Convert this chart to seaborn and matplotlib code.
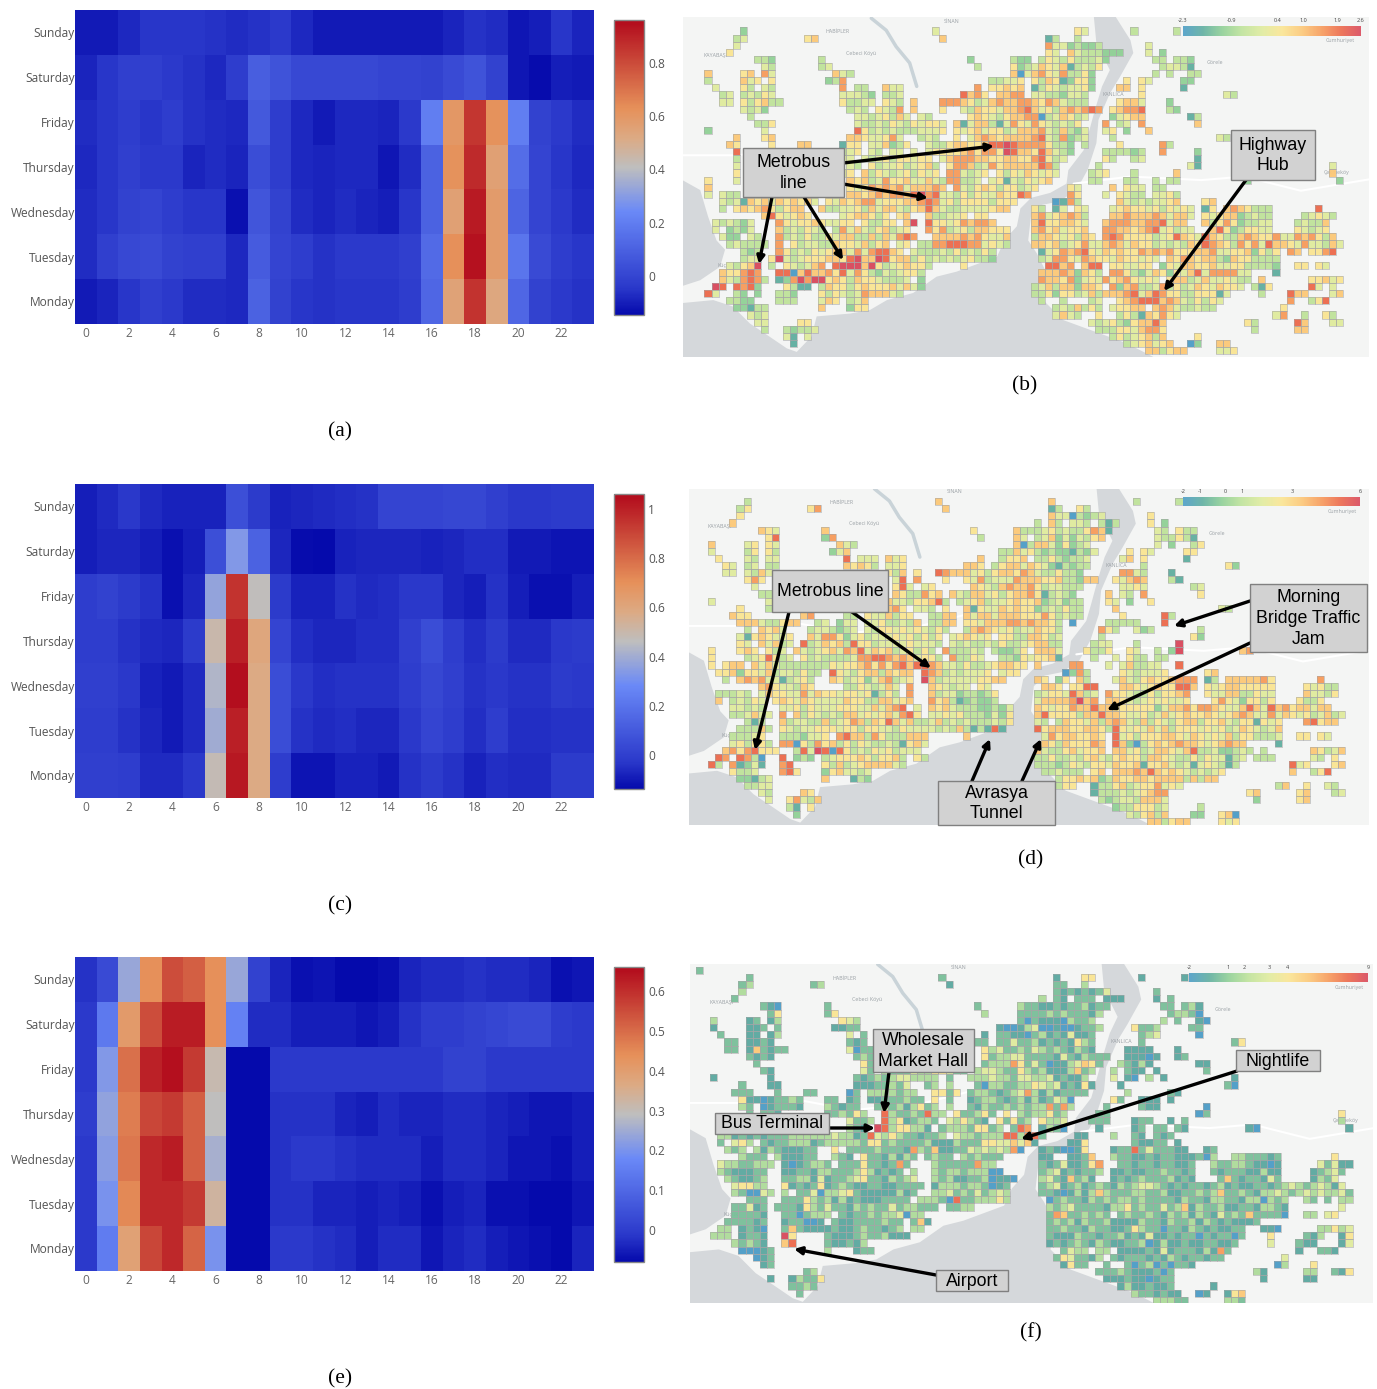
import numpy as np
import pandas as pd
import seaborn as sns
import matplotlib
matplotlib.use("Agg")
import matplotlib.pyplot as plt
from matplotlib.colors import LinearSegmentedColormap, ListedColormap
from matplotlib.patches import Polygon, Rectangle
from matplotlib.collections import PatchCollection
from matplotlib.transforms import ScaledTranslation

W, H = 1377, 1389
days = ["Sunday", "Saturday", "Friday", "Thursday", "Wednesday", "Tuesday", "Monday"]
hours = list(range(24))

week_a = [
 [-.11,-.11,-.08,-.05,-.05,-.05,-.06,-.07,-.06,-.04,-.08,-.11,-.11,-.11,-.11,-.11,-.11,-.09,-.06,-.07,-.12,-.10,-.05,-.09],
 [-.09,-.05,-.02,-.02,-.04,-.06,-.08,-.03,.09,.05,.01,.01,.01,.01,0,0,-.01,.02,.05,-.01,-.12,-.14,-.10,-.11],
 [-.07,-.05,-.03,-.05,-.03,-.06,-.07,-.08,.07,-.03,-.08,-.11,-.08,-.08,-.09,-.04,.2,.6,.85,.62,.2,-.01,-.04,-.07],
 [-.08,-.05,-.02,-.04,-.04,-.09,-.07,-.09,.03,-.03,-.08,-.09,-.08,-.08,-.12,-.07,.1,.62,.88,.56,.14,.0,-.05,-.08],
 [-.07,-.05,-.01,0,-.03,-.05,-.05,-.13,.06,-.01,-.07,-.09,-.07,-.09,-.1,-.05,.1,.56,.92,.58,.11,.0,-.04,-.07],
 [-.07,-.02,.01,.02,-.01,-.02,-.02,-.08,.08,0,-.03,-.06,-.04,-.04,-.04,-.02,.13,.63,.94,.58,.17,.02,-.03,-.05],
 [-.11,-.09,-.05,-.02,-.04,-.07,-.07,-.08,.10,-.01,-.05,-.06,-.05,-.05,-.05,-.03,.12,.55,.86,.53,.12,-.01,-.04,-.06],
]
week_c = [
 [-.09,-.06,-.03,-.06,-.08,-.08,-.08,.06,-.02,-.08,-.07,-.06,-.05,-.04,.02,.02,.02,.03,.03,.0,-.03,-.03,-.02,-.02],
 [-.09,-.07,-.07,-.09,-.12,-.09,.06,.33,.13,-.07,-.13,-.14,-.08,-.07,-.07,-.07,-.08,-.07,-.05,-.05,-.1,-.1,-.11,-.11],
 [-.01,.01,-.02,-.04,-.12,-.07,.37,.95,.47,-.02,-.08,-.08,-.04,-.06,-.05,-.03,-.03,-.07,-.09,-.04,-.09,-.12,-.12,-.09],
 [-.01,-.01,-.04,-.06,-.07,-.02,.5,1.0,.6,.02,-.05,-.07,-.07,-.05,-.05,0,.05,-.01,-.05,-.02,-.06,-.06,-.03,-.02],
 [.0,.0,-.03,-.08,-.1,-.06,.43,1.05,.58,.05,-.03,-.05,-.04,-.04,-.04,-.01,.03,.0,-.04,-.03,-.04,-.04,-.02,-.03],
 [-.01,-.01,-.04,-.07,-.1,-.06,.4,1.0,.58,.05,-.04,-.06,-.05,-.07,-.07,-.03,.02,-.01,-.05,-.01,-.05,-.05,-.04,-.04],
 [0,0,-.01,-.06,-.06,-.03,.48,1.02,.58,-.01,-.11,-.11,-.08,-.08,-.1,-.04,-.02,-.04,-.08,-.05,-.06,-.06,-.02,-.02],
]
week_e = [
 [-.02,.03,.24,.44,.55,.52,.44,.24,.01,-.04,-.07,-.065,-.08,-.08,-.07,-.04,-.03,-.03,-.02,-.03,-.03,-.04,-.07,-.06],
 [-.01,.14,.41,.55,.63,.63,.44,.16,-.03,-.03,-.05,-.05,-.05,-.06,-.05,-.02,.0,.0,.01,.02,.03,.03,.0,-.01],
 [-.01,.21,.49,.62,.65,.58,.31,-.08,-.08,-.01,-.01,-.01,-.01,-.01,-.01,-.01,-.01,.01,.01,-.01,-.01,-.01,-.01,-.01],
 [.0,.23,.47,.56,.58,.52,.29,-.08,-.08,-.02,-.02,-.02,-.04,-.05,-.03,-.04,-.04,-.03,-.03,-.04,-.05,-.06,-.06,-.05],
 [-.01,.22,.48,.61,.63,.52,.26,-.08,-.08,-.02,-.01,-.01,-.02,-.03,-.03,-.03,-.05,-.03,-.03,-.04,-.06,-.06,-.07,-.05],
 [-.01,.2,.45,.61,.61,.58,.33,-.08,-.08,-.02,-.02,-.04,-.04,-.05,-.04,-.05,-.07,-.05,-.04,-.07,-.07,-.08,-.08,-.06],
 [-.01,.15,.39,.56,.61,.51,.2,-.08,-.08,-.01,-.01,-.02,-.03,-.05,-.03,-.03,-.06,-.04,-.03,-.05,-.06,-.07,-.08,-.04],
]

# Map cells: row index -> "startcol:digits" runs ("." skips a cell). Digit 0 (blue) .. 9 (red)
map_b = [
"5:2 32:4 52:54 60:3 66:3",
"4:34 14:56 33:6 48:13 52:3",
"4:4 48:74423223 62:4",
"3:5 48:54.6433322 2 62:4 64:2",
"7:332 16:3 37:2 43:322 47:3543 5333 4 2 63:33.332",
"8:43 16:34 38:3 43:523 46:46546 13435 64:3443 1",
"0:6 5:56.74 18:643 43:604 46:67547 335 2 63:3.3..33",
"0:3 5:6 6:45.5 17:237 40:33445 46:536 5 1 2 5 5 2 59:5.54 67:22",
"1:4 5:53.43 19:7.33 25:644 38:7 40:55656 46:135434 4 5 2 58:66.5 67:1",
"2:34.3435 4 19:4 4432 25:334 36:8675 41:6677 46:44332 44 3 61:5 73:43",
"2:44.53563 3 19:53344 25:543 29:6 33:77765 3467 6677 46:6 5 7 6 4 3 3 3 58:5664 65:2",
"5:4342 20:343 24:5437 29:6 33:5 36:436 5 5 4 6 6 7 8 46:645367 67 8 7 57:56778 65:32",
"6:3 21:443 4 5 3 6 4 30:43 37:565 4 3 5 6 6 7 46:703465 34 57:24566 68:13",
"7:335 21:4 3 3 4 3 5 4 3 5 4 5 5 4 35:61 4 6 6 3 1 4 7 5 4 46:7 5 4 3 4 3 5 56:7.34.7 69:6",
"0:2 8:4 21:8534343 3 3 4 4 4 5 35:545 6 4 5 5 3 4 6 6 46:674 3 6 3 2 4 56:45.2..6",
"4:6 8:56 20:66544 5 7 4 30:343 35:5.46 7 6 5 6 6 6 6 46:784 3 7 2 3 4 57:3 72:43",
"3:65 9:5 13:66 19:155.44 6 2 3 5 31:4 3 3 5 6 6 5 5 6 8 8 9 8 7 7 46:7 7 5 3 3 2.3 58:5 64:73",
"4:8 19:345.43.44.4.45555 6 7 5 7 7 5 9 8 6 6 46:58 6 4 3 2 56:333323 64:7 69:2",
"4:3 19:44.4 3 4 5 3 5 5 4 5 5.4 6 7 7 7 6 6 5 5 6 6 5 5 46:7 8 5 3 4 56:53..34 69:1",
"4:4 20:43.5 3 4 4 5 3 4 5 6 3.5 7 7 6 3 4 7 5 6 6 6 6 46:6 8 7 3 55:3 68:41 88:4",
"4:5 19:45.6 3 5 4 3 4 5 3 5 4 5.7 7 4 3 4 5.5 3 5 4 6 46:5 4 5 4 54:345 60:3 66:6 88:6",
"0:5 4:4 20:65 6 3 4 7 5 5 6 4 4 6 4 3 7 7 3 3 4.4 5 1 4 3 5 46:456 54:33 59:33 63:3.33 76:2 89:2",
"0:6 20:54 5 7 6 7 6 7 4 6 6 6 7 6.7 4 3 5 6 5 3 5 5 3 4 46:5 51:54 57:6 59:544.33",
"0:4 2:433 20:66 5 6 7 6 7 7 6 8 9 7 8 4 4 3 5 3 5 4 4 6 5 5 8 7 51:75 56:4 58:5433.445 3",
"2:43 4 1 6 5 6 4 6 5 6 5 6 4.5 4 6 5 6 7 7 4 5 5 5 6 6 7 8 7 4 5 3 5 5 5 5 3 5 5 5 49:0 1 7 3 58:643 4 3 4 4 5 6 70:56",
"2:3.56 5 6 7 5 3 5 6 6..6 3 3 4 4 5 3 6 4 6 6 4 3 5 6 8 6 4 3 3 4 4 4 4 5 6 6 46:53.14.54 57:4565 5 4 5 3 5 4 5 4.15.6 7 6 5 3 3 3 86:8",
"8:6 8 5 4 5 6 5 19:4 5 6 6 5 3 5.5 6 31:6 3 3 4 4 5.5 5 46:6 7 4 5 6 7 6 3 57:6 6 7 6 6 6 7 6 4 6 6 4.5 4 5 6 6 2 3 4 3 3 84:3 4 5 4 3",
"1:4 3 4 3 2 4 10:7 5 4 5 5 6 5 4 4 5 5.5 3 3 5 5.6 9.8 5 5 4 5 7 6 7 7 6 46:6 8 5 5 6 6 5 4 56:6 7 7 7 6 6 7 7 8 4 6 6 70:6 3 5 7 5 2 3 3 4 4 83:3 4 3 3 6",
"1:4.2 3 2 4 10:6 3 4 3 5 4 3.3 7 4 6 4 3 5 6 3 4 5 31:7 5 7 3 4 5 3 6 6 5 5 5 46:6 7 5 6 4 5 5 6 56:7 7 6 6 5 6 7 8 4 5 3 4 4 71:6 8 5 2 3 5 5 4 4 83:5 4 3 4 5",
"2:4 2 2.4 3 10:7 3 4 3 5 3 3 5 4 6 6 3 3 6 3 6 4 7 8 7 32:6 6 6 6 7 6 7 5 4 4 6 46:3 6 6 5 4 5 3 6 5 56:7 8 7 5 5 5 5 3 4 5 8 6 5 4 8 6 5 3 3 6 7 6 5 5 7 4 4 7 6 7 5 3 6",
"3:3 4 3 3 3 3.7.5 3 4 4 3 3 6 5 5 4 6 3 5 6.4 5.3 3 7 7 8 8 8 7 7 4 5 4 3 46:6 6 5 6 3 4 5 7 4 4 6 7 6 4 6 5 5 3 4 3 4 3 6 5 8 7 6 5 3 7 5 7 4 8 6 6 5 4 7 4 4 3 6 4",
"5:3 2 3 10:7 5 3 4 3 5 4 5 6 6 4 7 4 7 8 8 6 5.4 3 3 3 4 3 5 3 4 3 5 3 47:1 4 5 7 6 7 8 5 4 6 5 6 5 5 7 6 7 6 7 5 5 5 6 6 7 4 4 5 5 6 2 5 3 5 82:7 6.5 5 7 8",
"5:3 4 4.5 9 4 3 4 5 5 5 6 6 5 8 9 6 6 9 8 5 6 6 3 5 3 4 3 4 3 4 5 3 3 2 47:3 4 7 7 5 4 7 6 5 5 4 6 5 5 4 5 4.6 5 7 6 5 6 6 3 2 6 5 5 3 3 3 3",
"3:4 3 5 6 9 9:3.5 4 3 4 6 7.8 9 9 9 6 9 5 3 4 5 6 5 5 3 36:5 48:8 8 6 7.6 8 8.5 5 4 4 5 5.2 5 4 6 6 5 5 6 4 4 5 5 3 3 3 3 2 83:55.54",
"2:6 5 5 7 8 7 10:8 8 0 6 8 6 6 7 5 8 4 7 5 3 2 4 3 4 5 5 3 47:6 6 6 7 6 2 6 5 3.7 7 5 3 2 4 6 5 2 5 4 6 8 4 7 7 7 7 4 4 80:1",
"2:6 4 3 7 8 7 3 10:1 2 7 9 7 9 9 5 6 5 3 6 5 5 4 3 3 3 4.2 47:7 6 6 5 7 2 4 5 4 7 5 6 7 5 4 5 4.5 6 6 3 4 6 4 4 5 4 3 3.6 85:5 5 6 4 5",
"1:9 8.8 7 8 2 11:5 3 1 1.3 6 5 5 3 5 6 5 5 5 6 4 6 4 2 46:3 4 6 3 6 6 2 6 6 5.7 2 6 7 3 3 4 7 3 5 3 4 6 5 4 6 5 5 4.3 1 5 85:8 4.4",
"0:8 4 4:3 2.2 10:3 3 2 16:5 3 5 4 3 4 7 6 6 6 4 3 46:3 3 5 2 5 5 3 4 6 3 6 6 6 7 8 4 6 8 7 5 5 3 3 5 5 5 1 4 78:3 82:8 6 6 88:46",
"3:3 3 2 2 10:3 3 3 16:4 6 5.3 4 6 47:3 50:3 54:34 58:5 6 7 8 8 8 6 7 6 4 3 5 3 5 4 82:7 85:3 5 8",
"4:2 2 1 3 3 16:6 20:2 5 5 49:3 4 3 6 3 5 3.4 5 5 6 6.6 7 6 4 3 3 4 3 3 81:5",
"6:4 3 4 49:4 6 4 3 55:5 58:3 5 3 1 6 5 7 5 4 80:4 7 84:3 87:5 3",
"7:4 4 13:5 5 54:4 3 4 5 3 2 5 6 6 8 6 76:5 3 83:8 6 88:4 4",
"8:3 11:3 2 3 3 4 55:3 3 3 5 5 4 6 7 7 5 77:3 83:6 6",
"11:4 1.4 57:3 5 3 4 5 6 3 6 69:5",
"12:1 59:3 4 5 6 4 5 6 68:0 2 72:6 6",
"62:6 6 3 5 6 6 72:4 4 5",
]
map_d = [
"5:3 32:6 48:6 60:3 66:3",
"4:35 14:57 33:6 48:13 52:53",
"4:5 48:64403 2 3 4 62:5",
"3:6 46:3.63.44 3.3 1 3 62:5 64:2",
"7:654 16:6 37:5 43:633 46:3 4 5 3 4 3 3 5 7 6 1 63:4 3.5 3 3",
"8:58 16:27 38:3 43:64 46:3 4 6 2 4 2 4 3 5 6 63:4 3 3 5 3 1",
"0:6 5:45.54 18:643 43:603 46:6 6 4 2 5 2 3 4 63:4.2..35",
"0:4 5:35.53 17:246 41:33645 46:3 2 3 2 2 1 3 2 4 59:5.54 67:55",
"1:5 5:43.44 19:8.44 4 25:645 38:6 41:3 5 5 6 46:3 3 5 3 2 3 3 4 58:46.5 67:1",
"2:54.34.33 19:6 5 6 5 3 25:445 36:665.3 5 6 6 4 6 46:5 4 2 1 3 2 3 3 61:3 73:52",
"2:44.436 4 25:5 3 6.5 32:8 7 6 6 6 4 5 3 5 6 6 5 7 6 46:4 3 3 5 3 3 2 58:7 7 4 3 65:1",
"5:575 26:48.7 33:5 36:5 4 7 3 4 4 4 7 6 6 46:6 5 5 6 3 3 2 6 6 57:5 4 6 7 6 65:3 1",
"6:4 26:5 8 4.4 5 37:6 5 4 3 6 7 6 6 7 46:5 3 4 4 3 3 3 58:4 4 5 4 68:3 4",
"7:33 26:6 5 3 3 7 5 6.6 4 3 6 6 4 5 3 5 6 6 7 46:5 1 3 4 3 2 56:6.4 3.7 69:5",
"0:4 8:4 25:6 4 4 3 5 5 6 8 3.3 4 5 6 3 4 4 5 6 5 5 46:6 2 3 4 2 3 3 56:5 4.2..5",
"4:5 8:3 25:6 7 5.4 4 3.5..6 1 5 4 4 6 5 6 5 5 46:2 3 4 3 5 3 3 57:6 72:43",
"3:655 13:67 19:33.5 4 4 6 3 5 5..3 3 6 6.6 4 6 6 4 6 6 6 5 5 46:5 7 5 3 4 3 3 58:5 64:83",
"4:6 6 6 4 3 3 5 6 6.. 3 4.2 4 4.4 4 5 3 3 4 3 6.3 3 6 6.5 5 4 6 6 6 7 7 6 7 46:6 6 5 3.0 56:3 3 3 3 3 64:8",
"5:3.6 5 6 4 14:3 4 4 3 2 3 4.4 3 5 5 4 5 4 5 4 3 5 3..3 6 7 6 5 4 5 3 4 4 46:6 5 5 3 55:7 5 3..4 2 3 69:3",
"4:4 1 5 6 5 4 4 5 14:6 4 7 7 5 2 4 5 3 4 4 4 5 4 5 3 5 3 5.4 5 6 5 4 5.5 5 3 3 6 46:6 5 3 4 55:3 68:5 2",
"4:5 4.6 4 6 3 4.8 3 4 6 5 6 3 8 5 5 3 4 4 4 4 5 4 4 4 3.4 3 4 3 3 4 3 5 3 3 4 5 46:6 6 3 3 54:3 4 4 60:3 66:9",
"0:5 4:5 6 5.5 3 4.6 4 3 4 5 6 4 7 6 8 4 6 5 6 3 4 5 3 5 3.7 3 3 3 4 3.3 2 2 3 5 46:6 6 6 4 53:5 3 3 5 59:5 4 63:3.2 9 75:6 7",
"0:5 5:3 4 5 8 5 3 4.5 3 4 3 3 3 3 4 7 7 8 8 7 6 7 6 4 5 5 3.7 3 3 5 4..3 3 2 5 4 46:5 5 6 1 54:3 57:4 59:5 3 3 63:3 3",
"0:5 2:5 6 6.6 4 6 4 3 3 3 3 3 3 3 5 4 5 5 6 7 5 7 5 7 8 6 8 8 7 6 4 4 3 5 3 3 4 5 6 6 5 5 46:6 51:7 7 56:4 58:4 6 3 3 4 4 66:8",
"1:5 5 6 2 5 5 4 6 3 4 4 3 5 3 3.8 5 4 3 5 6 6 3 6 5 6 6.8 7 6 3 4 3 4 4 4 5.4 5 5 50:0 2 7 3 58:5 4 3 4 4 4 5 70:5 6",
"2:3.6 7 6 7 4 4 1 3 4 5 3..6 5 3 4 5 2 4 6 7 3 4 5.9 6 3 4 4 4 4 4 5 5 6 6 46:6 5.2 5.6 3 57:4 6 4 3 5 6 5 5 6 7 7 7.1 3.6 6 6 6 6 7 5 86:7",
"7:6 7 5 4 4 3 6 5 19:3 3 5 4 3 4 6 4.7 31:6 5 4 3 4 4.5 4 47:6 6 5.5 5 8 8 58:6 6 5 4 5 6 5 5 8 8 6.5 4 5 6 6 5 5 5 5 5 84:5 4 5 3 3",
"1:3 3 3 4 3.4 6 5 5 4 4 7 4 6 5 5 4 5 5 4 5 1 3 5 3.7 31:6 3 4 4 2 3 3 2 3 5 46:3 4 5 5 4 8 6 3 4 56:7 5 5 4 3 3 5 3 5 5 6 7 70:5 4 4 6 6 3 3 5 4 4 84:6 4 4 3 5",
"1:6.3 4 3 5 4.5 6 5 4 6 5 4 4 4 4 6 5 5 3 3 6 6 4 5 6 31:7 5 6 3 1 2 3 2 2 3 46:4 6 6 6 6 7 9 6 7 56:6 6 5 4 3 4 5 4 5 4 4 5 71:5 7 5 4 2 5 5 3 5 83:5 3 3 5",
"3:4 4 3 4 3 10:4 4 5 3 5 4 4 4 5 5 5 4 4 6 4 6 7 8.4.6 5 6 4 3 3 3 2 2 3 2 4 46:6 5 4 5 5 7 6 6 8 6 6 5 5 5 5 5 5 2 4 6 6 7 5 7 7 6 5 4 4 6 8 6 4 8 6 7 5 6 6 4 6 6",
"3:3 3 4 6 4 4.7.6 3 5 4 3 4 3 6 6 4 5 4 5 6 4 7 8 5.4 4 5 4 5 3 3 3 2 4 2 5 46:6 8 5 5 5 5 3 6 6 8 6 6 5 4 4 5 3 4 6 4 5 6 5 5 6 5 4 5 6 7 6 4 4 7 4 6 5 4 5 3 4 6 3 4",
"5:3 1 3 10:6 3 4 4 3 3 6 3 4 5 7 6 3 6 5 8 6 4 6 3 3 4 6 3 4 3 4 3 3 3 4 3 5 46:4 3.3 6 5 5 4 6 3 6 7 6 4 3 6 3 5 4 3 5 6 6 3 5 5 6 4 3 5 5 1 5 4 5 84:7 8 5 6 6",
"4:3 3 3 6 3 10:5 4 3 4 4 5 5 5 4 5 5 3 5 5 4 4 3 5 4 4 4 4 3 4 3 6 3 1 3 1 8 1 46:8 5 6 6 6 5 5 6 6 5 3 8 5 4 5 4 6 4 6 3 5 5 5 4 5 4 5 3 4 6 5 4 3 4 6",
"3:3 3 3 4 5 10:3 3 3 2 4 4 5.7 8 6 6 3 7 5 3 3 3 6 6 6 36:6 47:4 7 5 6 6 5 5 6 5.8 4 5 3 5 5 5 6 6 5 4 6 5 4 5 4 6 3 5 5 3 3 3 4 83:5 5.5 4",
"3:4 5 3 5 5 3.7 7 0 5 3 7 5 6 3 5 3 5 4 3 3 4 3 1 5 6 4 47:6 5 3 6 5 5 5 7 6.8 6 2 0 3 5 6 5 6 7 6 6 5 4 5 6 7 6 6 80:1",
"2:6 7 5 7 8 5 5 5..3 8 4 9 8 0 8 5 3 4 3 5 4 5 3 4 4 4 46:6 4 3 3 5 6 4 5 5 6.6 6 4 5 3 4 6 6 5 4 6 8 3 3 4 2 2 3 4 3 78:3 85:6 5 3 4 6",
"1:8 7.8 7 3 0 10:8.2 3 2.3 4 5 5 5 6 5 3 5 5 6 3.5 3 46:3 3 5 3 3 4 3 5 6 4 3 5 6 5 5 3 6 6 5 4 3 3 5 3 5 4 4 1 3 4 77:3 3 3 85:4 3 88:5",
"0:8 3.7 1 2 4 1 10:7 8 16:5 3 6 3 4 5 6 6 6 6 4 3 46:3 3 3 2 3 5 4 3 5 5 4 6 5 5 6 1 5 5 6 4 3 4 1 4 5 4 3 1 3 82:8 4 5 88:5 6",
"3:5 3 3 4 10:7 8 5 16:2 5 6 4 4 3 4 47:3 3 4 3 3 3 54:5 6 57:6 6 6 7 6 8 6 5 6 5 4 3 4 3 4 5 82:6 85:3 5 8",
"4:2 2 1 3 4 16:6 20:1 3 2 49:3 5 5 6 5 6 2 3 6 5 5 6 6 5 6 6 6 6 3 6 3 6 6",
"5:3 3 4 4 49:3 5 5 54:1 3 3 5 6 3 4 5 5 7 4 5 4 80:3 6 84:5 87:4 3",
"7:4 3 13:6 5 54:1 3 3 3 4 3 4 5 6 7 7 76:5 6 83:5 6 88:3 4",
"8:4 11:5 7 4 3 6 55:3 2 3 4 4 3 6 6 6 4 77:2 83:5 6",
"11:3 1.5 57:2 3 3 5 5 5 3 4 69:3",
"12:2 59:4 3 5 6 3 6 68:2 2 72:5 6 0",
"62:6 6 3 5 6 6 72:5 4 5",
]
map_f = [
"5:2 32:2 48:1 52:55 60:1 66:1",
"4:23 14:23 33:1 48:22 52:3",
"4:3 48:2 1 2 1 2 1 2 4 62:2",
"3:2 46:3.2 1.2 2 2.1 1 1 62:1 64:2",
"7:210 16:2 37:2 43:322 46:1 1 2 1 2 2 3 1 2 2 63:2 2.2 3 1",
"8:25 16:25 38:3 43:222 46:2 3 2 3 2 2 2 1 3 64:2 3 3 2 0",
"0:3 5:12.13 18:543 43:202 46:1 1 1 0 3 2 2 3 63:3.2..1 0",
"0:1 5:112.2 17:1122 40:100134 1 46:0 0 1 0 0 1 2 2 3 59:5 2 2 3 67:2 2",
"1:2 5:11.13 19:4.2 36:1.1.22 1 1 0 2 46:3 1 2 1 4 1 1 2 60:2 3 4 68:0",
"2:22.1121 19:212 37:22.2 2 4 2 2 3 46:1 2 1 2 1 5 3 2 60:2 73:2 5",
"2:22.1 6 2 1 2 2 19:4 0 2 2 38:5 3 4 2 2 3 2 4 46:3 2 3 2 1 3 2 1 58:1 1 1 1 65:1",
"5:2 1 2 1 20:2 3 2 38:5 2 3 3 4 4 2 2 46:2 2 1 4 2 1 3 2 2 2 58:1 1 1 0 1 65:1 2",
"6:2 21:5 2 38:2 3 3 3 7 5 2 4 46:2 0 1 1 3 4 6 5 2 57:3 2 1 3 1 68:1 1",
"7:21 21:4 2.3 2 2 2 4 3 3 5 5 4 2 2.3 4 4 3 2 2 5 3 2 46:3 1 1 1 3 6 2 3 56:3.2 1 1.1 69:2",
"0:1 8:1 20:2 1 2 3 2 3 4 4 3 3 3 3.2 36:3 3 3 4 3 3 2 4 4 3 46:3 4 1 2 1 1 3 56:4.1 0.3 63:1 73:1",
"4:2 8:11 20:1 1 1 2 2 3 2 4 30:2 3.3 37:2 0 3 3 2 2 3 3 5 46:4 3 4 1 2 1 5 1 57:1 72:2 0",
"3:222 9:2 13:22 19:0 2.3 3 3 3 2 3 3..5 5 2 5.2 3 3 2 1 2 3 4 7 3 46:1 3 1 2 2 2 2 58:3 64:2 1",
"4:5 1 1 0 1 2 2 3 2 16:2 2.1 2.1 1 2 2 2 3 2 2.5.2..1 2 3 3 2 1 2 3 1 3 46:1 2 4 3 0 56:5 2 60:1 1 1 64:1",
"4:3 2.0 1 2 2 2 1 16:3 2 1 2 2 23:2 3 2 3 1 3 5 2 3.3 36:2 1 3 2 2 3 2 3 2 3 46:3 7 2 7 3 55:2 60:2 1 1 69:0",
"5:2.2 2 1 16:2 2 3 2 5 3 24:8 3 2 2 3 2 8 3 3.5 2 2 3 5 2.5.3 2 3 46:3 5 2 3 54:2 2 68:0 2 88:5",
"19:4 2 2 3 24:8 3 5 1 2 3 3 2.4 3 5 3 2 1.5 2 5 2 3 46:5 3 3 4 53:2 2 2 59:1 2 2 64:1 66:2 88:3",
"19:3 2 1.9 8 3 5 5 3 3 1.2 3 3 3 2 5 5 2 3.2 8 7 46:1 3 2 0 54:1 59:1 2 62:2 2 65:2 1 75:1 0 89:1",
"1:3 3 1 2 1 2 1 2 2 2 3 3 3 3 3 3 4 3 3 1 2 8 4 3 5 3 2 2 1 2 2 3.4 3 3 2 3 3 3 8 8 3 7 8 46:2 51:1 1 56:3 59:2 1 62:2 1 2",
"1:2.4 5 3.2 1 2 2 3 3 3 1 2 3 3 3 3 3 2 5 5 2 3 2 2 2 2 3 1 1 1 3 2 2 2 5 5 4 4 6 4 6 1 50:1 1 5 59:2 1 1 2 2 65:1",
"2:3 2 3.3 1 3 2 1 1 1 2 2 17:5.2 2 2 2 3 2 2 2 1 7 3 2 6 1 1 2 2 4 3 4 3 4 3 7 0 46:1 2 1 0 0 1 5 56:1 2 2 8 2 4 2 2 2 1 1 69:1 2",
"4:3 2 2 2.3 1 1 1 2 2 17:3 2 1.5 2 2 1 3 1 3 2.2 3 2 2.3 2 3 2 2 2 46:1 1.. 1 1 2 6 56:3 2 2 1 1 2 1 2 2 1 1 1 2 0 3 73:3 3 2 2 2 1 2 87:5",
"1:4 3 3 2 2 3 3 3 10:1 0 1 2 3 3 2 18:2 2 2 5 2 2 1 2 7 2 31:3 2 2 2 2 2 7 3 3 46:2 1 2 4 1 1 2 5 7 57:2 2 1 2 2 1 2 2 1 1 2 70:3 2 2 3 3 2 1 1 0 1 85:4 2 4 1 1",
"1:3 2 1 1 1 2 2 10:1 1 2 2 1 3 3 2 2 2 3 5 3 1 2 1 2.3 31:3 2 3 3 2 3 3 3 0 0 46:2 3 4 1 2 1 2 2 3 56:1 1 2 1 1 2 2 3 2 2 1 2 70:2 1 2 2 2 1 1 3 1 1 84:1 2 3 4 2",
"2:3 2 1 1 2 3 10:2 2 3 3 1 4 1 2 2 3 4 5 2 2 1 3 2 3 4 31:3 2 3 1 1 2 2 3 0 1 1 0 46:3 4 2 1 6 2 3 1 56:1 2 1 2 3 2 2 2 3 1 2 1 71:2 6 2 1 2 2 1 4 2 84:1 3 2 4",
"3:4 5 5 3 3 10:5 1 2 1 2 5 1 2 3 2 1 1 2 2 1 1 2 2 2 2 31:1 3 3 3 2 3 3 2 0 1 2 46:2 3 4 1 2 3 1 2 3 2 1 3 2 3 4 4 3 2 1 2 1 2 2 1 2 3 1 2 1 1 2 2 1 2 3 4 3 2 3 4 3 1 4",
"3:3 2 0 0 4 3.3.2 2 4 0 3 3 4 5 2 1 1 1 1 1 3 1 2 31:3 3 4 2 3 2 4 2 3 4 3 46:2 2 1 0 1 3 1 3 6 3 2 2 2 3 3 2 2 3 1 1 2 2 3 2 3 6 2 2 3 2 1 3 3 4 3 2 3 4 3 4 3 3 4 2",
"5:2 2 2 10:2 2 2 5 3 2 3 1 3 1 2 1 1 1 2 2 2 2.3 3 3 2 0 8 2 2 3 3 3 5 3 47:0 2 3 2 2 1 3 2 3 2 3 3 2 3 2 2 2 2 1 3 2 2 1 3 3 2 2 1 3 3 0 3 2 3 83:3 2.2.3 3",
"3:2 2 4 1 2.2 2 2 1 5 3 2 4 2 2 1 3 2 3 2 2 4 2 3 3 2 2 2.2 2 3 3 47:3 2 3 4 2 2 2 2 1 3 3 5 2 3 2 2 4 2 3 6 1 3 2 2 3 1 1 2 2 1 3 3 2 1 88:4",
"3:2 2 2 2 1 10:2 2 0 2 3 3 3.2 1 2 2 3 2 3 3 4 0 3 3 47:2 7 6 2 2 3 2 3 2.2 3 2 2 3 2 1 3 2 3 1 3 2 1 4 2 3 2 6 2 2 2 2 0 83:3 3.4 5",
"2:2 2 2 2 1 2 10:1 2 2 0 0 1.2 1 1 2 2 2 2 3 2 2.2 6 1 47:2 3 2 3 1 3 2 2 3 1 1 1 1 3 2 2 1 3 2 2 3 1 3 2 1 2 1 1 1 2",
"1:3 3 4:1 2 1 0 10:2 6 2 1 1 1 1 2 1 1 2 3 2 2 1 2 3.3 3 47:2 2 3 2 2 1 3 2 2 1 1 2 5 3 2 2 0 2 2 1 3 2 1 2 1 1 2 2 77:1 1 0 85:3 3 5 3 4",
"0:3 3 3.1 2 2 1 10:9 5 16:2 1 1 1 2 3 2 2 3 1 1 1 47:2 1 1 1 3 2 2 1 2 2 3 1 2 1 4 1 1 2 1 2 2 0 2 1 2 2 0 2 78:5 83:2 1 3 88:1 5",
"3:3 2 3 2 1 10:6 8 16:2 1 1 2 1 3 47:1 2 1 2 3 2 1 3 2 1 1 2 2 3 0 1 3 1 1 2 1 1 2 2 1 1 2 78:4 82:2 1 1 88:1 4",
"4:0 0 0 1 2 16:3 20:1 2 2 49:2 4 3 3 54:3 3 57:1 1 1 1 2 1 4 1 2 2 2 1 3 1 7 2 82:1 85:2 2 1",
"6:0 1 2 48:2 5 4 2 2 1 3 56:2 1 2 2 2 1 2 1 3 2 1 2 2 1 2 2 80:4",
"7:1 2 49:1 5 2 2 55:2 58:2 0 2 3 0 2 0 2 2 1 79:0 3 84:5",
"13:2 3 54:2 2 2 3 2 1 1 1 2 0 2 76:3 1 83:3 3 87:2 1 5",
"8:1 11:1 3 2 2 5 55:1 1 1 2 1 1 0 1 2 2 77:1 83:1 1",
"11:2 2 3 2 57:1 3 1 1 2 1 1 2 70:1",
"12:2 59:3 2 2 1 2 1 1 68:0 1 72:1 5 6",
"62:3 3 3 2 2 72:3 3 2",
]
f_extra = (-1, -2, 2)

sea_x = [-4,1.25,4,6.4,8.8,11.6,13,15.1,15.8,20.5,23.3,25.7,29.4,32.7,35.5,41.2,42.3,44,44.5,46,48.7,51,51.25,53.4,54.1,55,56,57.1,55.2,54.8,
         57.6,60,60.4,58.5,57.1,55.5,55.2,54,52.4,50,47.5,46,45.6,46.8,48.2,47.7,50.5,55.7,59.5,63.2,63.2,-4]
sea_y = [38.9,38.4,39.3,41.7,43.3,45.2,45.7,43.5,40.7,40.3,39.8,38.4,37.4,35.1,34.4,32.3,29.9,28,25.5,24,23.3,22,20.1,17.3,14.9,11.6,8.3,6,2.2,-2,
         -2,1.8,3.6,7,9.3,13,16.3,20,22.9,24.5,25,26.5,30,31.8,34.6,38.4,41.2,43.1,44.5,46.4,48,48]
bay_x = [-4,-.6,.5,1.7,2.9,2.2,-.6,-4]
bay_y = [21,22.9,26.6,30,31.3,33.7,35.6,36.7]
lake_x = [23.5,25.6,27,28.9,29.9]
lake_y = [-1.3,.4,2.7,5,8.3]
road_x = [-4,4,12,20,30,38,44]
road_y = [18,18,17.5,19,18,16,18]
road2_x = [52,60,70,76,84,96]
road2_y = [22,21,21.5,21,23,21]
place_names = ["HABİPLER","Cebeci Köyü","KAYABAŞI","Bağcı","Küçük","Cumhuriyet","Görele","Çekmeköy","SİNAN","KANLICA"]
place_c = [18.8,22,1.6,18,2.9,89.5,71.9,89,34.8,57.6]
place_r = [.6,3.6,4,25,33.5,1.9,5,20.4,-.9,9.5]

map_palette = ["#4b9cc6","#5fae9f","#90d095","#bfe39a","#dfeb9d","#fae592","#fcc877","#f79b5a","#ec694a","#d8475a"]
night_palette = ["#4b9cc6","#5aa79f","#79bf98","#aedb9a","#dfeb9d","#fae592","#fcc877","#f79b5a","#ec694a","#d8475a"]
hm_cmap = LinearSegmentedColormap.from_list("plotly_rdbu", [
    (0, (5/255,10/255,172/255)), (.09,(42/255,56/255,202/255)), (.35,(106/255,137/255,247/255)), (.5,(190/255,190/255,190/255)),
    (.6,(220/255,170/255,132/255)), (.7,(230/255,145/255,90/255)), (1,(178/255,10/255,28/255))])
grad_cmap = LinearSegmentedColormap.from_list("grad", map_palette)

sns.set_theme(style="white")
plt.rcParams["font.family"] = ["Open Sans", "DejaVu Sans"]
fig = plt.figure(figsize=(W/100, H/100), dpi=100, facecolor="white")

def rect(x0, y0, x1, y1):
    return [x0/W, 1-y1/H, (x1-x0)/W, (y1-y0)/H]

def draw_week(values, y0, vmin, vmax, ticks, labels):
    ax = fig.add_axes(rect(75, y0, 594, y0+314))
    cax = fig.add_axes(rect(614, y0+10, 644, y0+305))
    df = pd.DataFrame(values, index=days, columns=hours)
    sns.heatmap(df, ax=ax, cmap=hm_cmap, vmin=vmin, vmax=vmax, cbar_ax=cax, xticklabels=True, yticklabels=True)
    ax.set_xticks(np.arange(0, 24, 2)+.5)
    ax.set_xticklabels([str(h) for h in hours[::2]], rotation=0, fontsize=8.6, color="#666666")
    ax.set_yticks(np.arange(7)+.5)
    ax.set_yticklabels(days, rotation=0, fontsize=8.6, color="#555555")
    ax.tick_params(length=0, pad=0)
    ax.tick_params(axis="x", pad=2)
    shift = ScaledTranslation(0, -1/72, fig.dpi_scale_trans)
    for lab in ax.get_yticklabels():
        lab.set_transform(lab.get_transform()+shift)
    ax.set_xlabel(""); ax.set_ylabel("")
    cb = ax.collections[0].colorbar
    cb.set_ticks(ticks); cb.set_ticklabels(labels)
    cb.ax.tick_params(length=0, labelsize=8.6, labelcolor="#555555", pad=3)
    cb.outline.set_edgecolor("#888888"); cb.outline.set_linewidth(1); cb.outline.set_visible(True)

draw_week(week_a, 10, -.147, .96, [0,.2,.4,.6,.8], ["0","0.2","0.4","0.6","0.8"])
draw_week(week_c, 484, -.138, 1.06, [0,.2,.4,.6,.8,1], ["0","0.2","0.4","0.6","0.8","1"])
draw_week(week_e, 957, -.08, .66, [0,.1,.2,.3,.4,.5,.6], ["0","0.1","0.2","0.3","0.4","0.5","0.6"])

OFF = 3
def parse_rows(rows):
    g = np.full((50, 96), np.nan)
    for r, line in enumerate(rows):
        col = None
        for tok in line.split():
            if ":" in tok:
                s, tok = tok.split(":"); col = int(s)
            for ch in tok:
                if ch != ".":
                    g[r+OFF, col+OFF] = int(ch)
                col += 1
    return g

def draw_map(rows, box, c0, r0, px, py, palette, extra=None, skip=()):
    x0, y0, x1, y1 = box
    ax = fig.add_axes(rect(*box))
    ax.set_facecolor("#f4f5f4")
    g = parse_rows(rows)
    if extra:
        g[extra[0]+OFF, extra[1]+OFF] = extra[2]
    sns.heatmap(g, ax=ax, mask=np.isnan(g), cmap=ListedColormap(palette), vmin=-.5, vmax=9.5, cbar=False,
                xticklabels=False, yticklabels=False, square=False, alpha=.95)
    rr, cc = np.nonzero(~np.isnan(g))
    ax.add_collection(PatchCollection([Rectangle((c, r), 1, 1) for r, c in zip(rr, cc)],
                                      facecolor="none", edgecolor="#a6a6a6", linewidth=.4, zorder=2))
    left = (x0-(c0-px/2))/px+OFF; right = (x1-(c0-px/2))/px+OFF
    top = (y0-(r0-py/2))/py+OFF; bot = (y1-(r0-py/2))/py+OFF
    ax.set_xlim(left, right); ax.set_ylim(bot, top)
    for xs, ys in ((sea_x, sea_y), (bay_x, bay_y)):
        ax.add_patch(Polygon(np.c_[np.array(xs)+OFF, np.array(ys)+OFF], closed=True, fc="#d5d8db", ec="none", zorder=.5))
    ax.plot(np.array(lake_x)+OFF, np.array(lake_y)+OFF, color="#c9d3d8", lw=2.5, zorder=.6)
    ax.plot(np.array(road_x)+OFF, np.array(road_y)+OFF, color="#ffffff", lw=1.5, zorder=.6)
    ax.plot(np.array(road2_x)+OFF, np.array(road2_y)+OFF, color="#ffffff", lw=1.5, zorder=.6)
    for name, c, r in zip(place_names, place_c, place_r):
        if name in skip:
            continue
        ax.text(c+OFF, r+OFF, name, fontsize=3.8, color="#9aa0a5", ha="center", va="center", zorder=.7, clip_on=True)
    ax.tick_params(length=0)
    for s in ax.spines.values():
        s.set_visible(False)

draw_map(map_b, (683,17,1369,357), 708, 31, 7.1, 7.1, map_palette)
draw_map(map_d, (689,489,1369,825), 711.7, 501.7, 7.08, 7.1, map_palette, skip=("Çekmeköy",))
draw_map(map_f, (690,964,1373,1303), 713.5, 977.3, 7.14, 7.18, night_palette, f_extra)

ov = fig.add_axes([0, 0, 1, 1], zorder=10)
ov.set_xlim(0, W); ov.set_ylim(H, 0); ov.axis("off"); ov.patch.set_alpha(0)

def legend_bar(x0, y0, x1, y1, pos, labels):
    ax = fig.add_axes(rect(x0, y0, x1, y1), zorder=9)
    ax.imshow(np.linspace(0, 1, 256)[None, :], aspect="auto", cmap=grad_cmap, alpha=.9, extent=(x0, x1, 0, 1))
    ax.set_xlim(x0, x1)
    ax.set_yticks([]); ax.set_xticks([])
    for s in ax.spines.values():
        s.set_visible(False)
    for p, l in zip(pos, labels):
        ov.text(p, y0-3, l, fontsize=4, color="#444444", ha="center", va="bottom")

legend_bar(1183, 26, 1361, 36, [1183,1232,1278,1303,1337,1361], ["-2.3","-0.9","0.4","1.0","1.9","2.6"])
legend_bar(1183, 497, 1360, 506, [1183,1200,1225,1242,1292,1360], ["-2","-1","0","1","3","6"])
legend_bar(1189, 973, 1368, 982, [1189,1228,1244,1269,1287,1368], ["-2","1","2","3","4","9"])

def callout(x0, y0, x1, y1, text, arrows):
    for (ax_, ay_, bx_, by_) in arrows:
        ov.annotate("", xy=(bx_, by_), xytext=(ax_, ay_),
                    arrowprops=dict(arrowstyle="-|>", color="black", lw=2.4, mutation_scale=11, shrinkA=0, shrinkB=0), zorder=6)
    ov.add_patch(Rectangle((x0, y0), x1-x0, y1-y0, fc="#d2d2d2", ec="#808080", lw=1, zorder=7))
    ov.text((x0+x1)/2, (y0+y1)/2+.5, text, ha="center", va="center", fontsize=12.8,
            family="Liberation Sans", color="black", linespacing=1.27, zorder=8)

callout(743,148,844,197,"Metrobus\nline",[(843,163,994,146),(843,184,928,198),(772,197,759,264),(804,197,843,260)])
callout(1231,130,1315,180,"Highway\nHub",[(1246,180,1164,291)])
callout(772,570,888,612,"Metrobus line",[(789,612,755,750),(852,612,931,668)])
callout(1250,584,1367,652,"Morning\nBridge Traffic\nJam",[(1250,601,1174,626),(1250,643,1107,710)])
callout(938,781,1055,825,"Avrasya\nTunnel",[(972,781,990,739),(1022,781,1041,739)])
callout(873,1029,974,1072,"Wholesale\nMarket Hall",[(889,1072,884,1113)])
callout(715,1113,829,1134,"Bus Terminal",[(829,1128,875,1128)])
callout(936,1270,1008,1291,"Airport",[(936,1275,794,1249)])
callout(1236,1050,1320,1071,"Nightlife",[(1237,1071,1021,1139)])

caps = [("(a)",340,432),("(b)",1025,386),("(c)",340,906),("(d)",1031,860),("(e)",340,1379),("(f)",1031,1333)]
for t, x, y in caps:
    ov.text(x, y, t, ha="center", va="center", fontsize=15.5, family="Liberation Serif", color="black")

fig.savefig("out.png", dpi=100)
